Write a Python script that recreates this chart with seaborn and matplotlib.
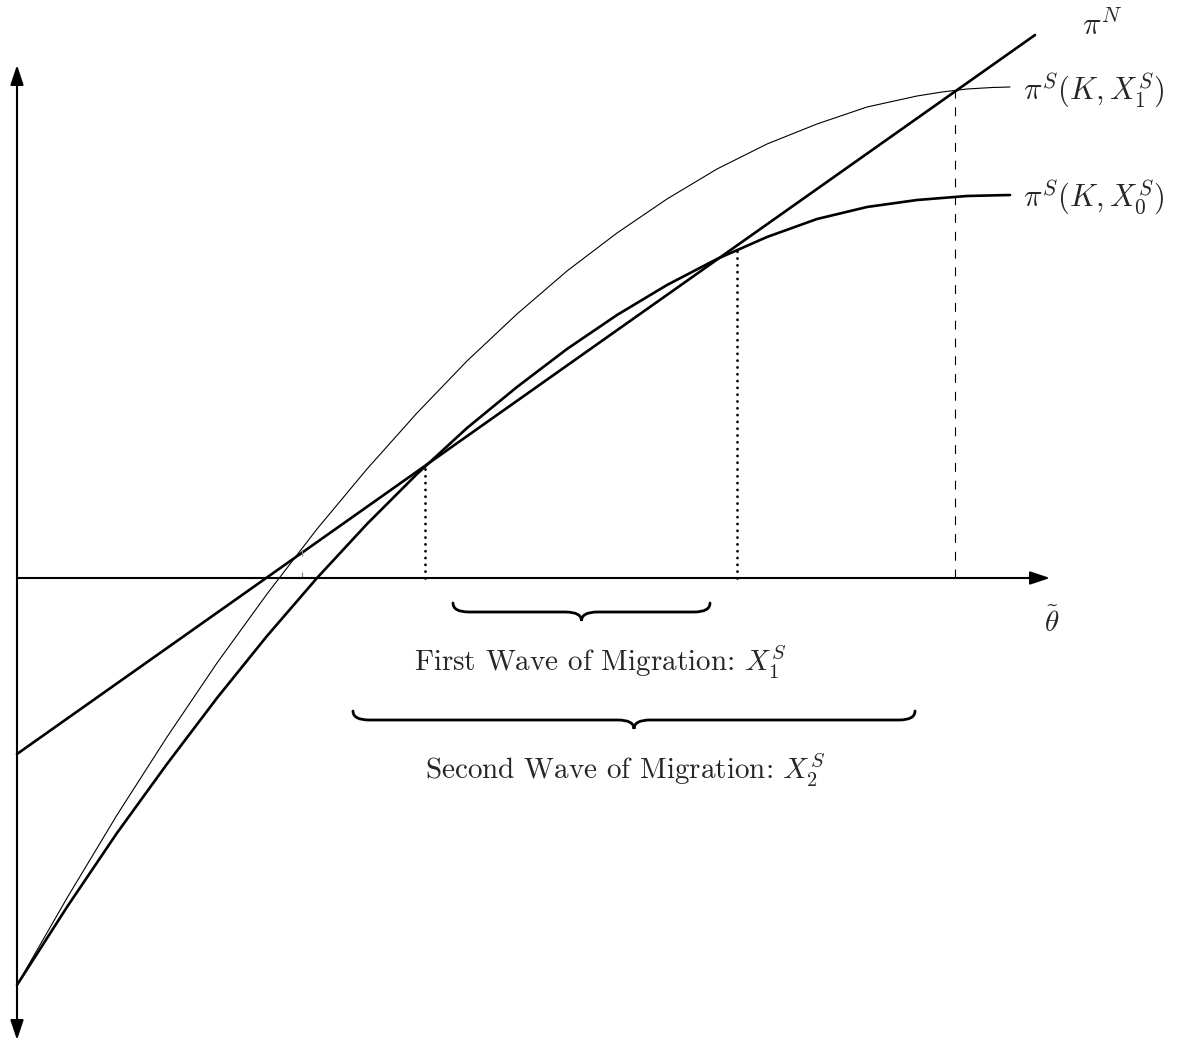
"""
Two waves of migration: profit curves pi^S(K, X^S) against the line pi^N
"""
import numpy as np
import pandas as pd
import matplotlib
matplotlib.use("Agg")
import matplotlib.pyplot as plt
import seaborn as sns
from matplotlib.path import Path
from matplotlib.patches import PathPatch

# values (theta on x, profit on y)
theta_x1 = [0.0, 0.5, 1.0, 1.5, 2.0, 2.5, 3.0, 3.5, 4.0, 4.5, 5.0,
            5.5, 6.0, 6.5, 7.0, 7.5, 8.0, 8.5, 9.0, 9.25, 9.5, 9.75, 9.93]
profit_x1 = [-4.07, -3.20, -2.37, -1.59, -0.85, -0.16, 0.49, 1.09, 1.65, 2.17, 2.64,
             3.07, 3.45, 3.79, 4.09, 4.34, 4.54, 4.71, 4.82, 4.86, 4.89, 4.905, 4.91]

theta_x0 = [0.0, 0.5, 1.0, 1.5, 2.0, 2.5, 3.0, 3.5, 4.0, 4.5, 5.0,
            5.5, 6.0, 6.5, 7.0, 7.5, 8.0, 8.5, 9.0, 9.25, 9.5, 9.75, 9.93]
profit_x0 = [-4.07, -3.29, -2.55, -1.86, -1.20, -0.58, 0.00, 0.54, 1.04, 1.50, 1.91,
             2.29, 2.63, 2.93, 3.19, 3.41, 3.59, 3.71, 3.78, 3.80, 3.82, 3.826, 3.83]

theta_n = [0.00, 10.18]
profit_n = [-1.76, 5.43]

# crossings marked by drop lines
cross_theta = [4.08, 7.20, 9.38]
cross_profit = [1.11, 3.29, 4.88]

# braces under the axis: (start, end, height of bar)
brace_start = [4.36, 3.36]
brace_end = [6.93, 8.98]
brace_level = [-0.34, -1.42]
brace_text = ["First Wave of Migration: $X_1^S$", "Second Wave of Migration: $X_2^S$"]
text_pos = [(5.83, -0.84), (6.08, -1.92)]

curve_labels = [r"$\pi^N$", r"$\pi^S(K,X_1^S)$", r"$\pi^S(K,X_0^S)$", r"$\tilde{\theta}$"]
label_pos = [(10.85, 5.53), (10.06, 4.88), (10.06, 3.81), (10.35, -0.45)]


def draw_brace(ax, x0, x1, y, h=0.09, r=0.16, lw=2.0):
    xm = (x0 + x1) / 2
    verts = [(x0, y + h), (x0, y), (x0 + r, y),
             (xm - r, y), (xm, y), (xm, y - h),
             (xm, y), (xm + r, y),
             (x1 - r, y), (x1, y), (x1, y + h)]
    codes = [Path.MOVETO, Path.CURVE3, Path.CURVE3,
             Path.LINETO, Path.CURVE3, Path.CURVE3,
             Path.CURVE3, Path.CURVE3,
             Path.LINETO, Path.CURVE3, Path.CURVE3]
    ax.add_patch(PathPatch(Path(verts, codes), fill=False, lw=lw,
                           edgecolor="black", capstyle="round"))


sns.set_style("white")
plt.rcParams["mathtext.fontset"] = "cm"
plt.rcParams["font.family"] = ["cmr10", "DejaVu Serif"]
plt.rcParams["axes.unicode_minus"] = False

fig = plt.figure(figsize=(12, 10.43), dpi=100)
ax = fig.add_axes([0, 0, 1, 1])

df1 = pd.DataFrame({"theta": theta_x1, "profit": profit_x1})
df0 = pd.DataFrame({"theta": theta_x0, "profit": profit_x0})
dfn = pd.DataFrame({"theta": theta_n, "profit": profit_n})

sns.lineplot(data=df1, x="theta", y="profit", color="black", lw=0.8, sort=False, ax=ax)
sns.lineplot(data=df0, x="theta", y="profit", color="black", lw=1.9, sort=False, ax=ax)
sns.lineplot(data=dfn, x="theta", y="profit", color="black", lw=1.9, sort=False, ax=ax)

# drop lines
ax.vlines(cross_theta[:2], 0, cross_profit[:2], color="black", lw=2.0,
          linestyles=[(0, (0.05, 2.4))], capstyle="round")
ax.vlines(cross_theta[2], 0, cross_profit[2], color="black", lw=0.8,
          linestyles=[(0, (8, 8))])

# small tick marks near the left crossing
ax.vlines([2.85, 2.85], [0.0, 0.22], [0.06, 0.28], color="0.5", lw=0.8)

# axes with arrow heads
arrow = dict(arrowstyle="-|>,head_length=0.6,head_width=0.2", mutation_scale=20,
             lw=1.5, color="black", shrinkA=0, shrinkB=0)
ax.annotate("", xy=(10.33, 0), xytext=(0, 0), arrowprops=arrow)
ax.annotate("", xy=(0, 5.13), xytext=(0, 0), arrowprops=arrow)
ax.annotate("", xy=(0, -4.62), xytext=(0, 0), arrowprops=arrow)

for x0, x1, y in zip(brace_start, brace_end, brace_level):
    draw_brace(ax, x0, x1, y)

for txt, (x, y) in zip(brace_text, text_pos):
    ax.text(x, y, txt, ha="center", va="center", fontsize=21)

ax.text(*label_pos[0], curve_labels[0], ha="center", va="center", fontsize=22)
ax.text(*label_pos[1], curve_labels[1], ha="left", va="center", fontsize=22)
ax.text(*label_pos[2], curve_labels[2], ha="left", va="center", fontsize=22)
ax.text(*label_pos[3], curve_labels[3], ha="center", va="center", fontsize=21)

ax.set_xlim(-0.17, 11.83)
ax.set_ylim(-4.65, 5.78)
ax.axis("off")

plt.savefig("out.png", dpi=100)
plt.close()
